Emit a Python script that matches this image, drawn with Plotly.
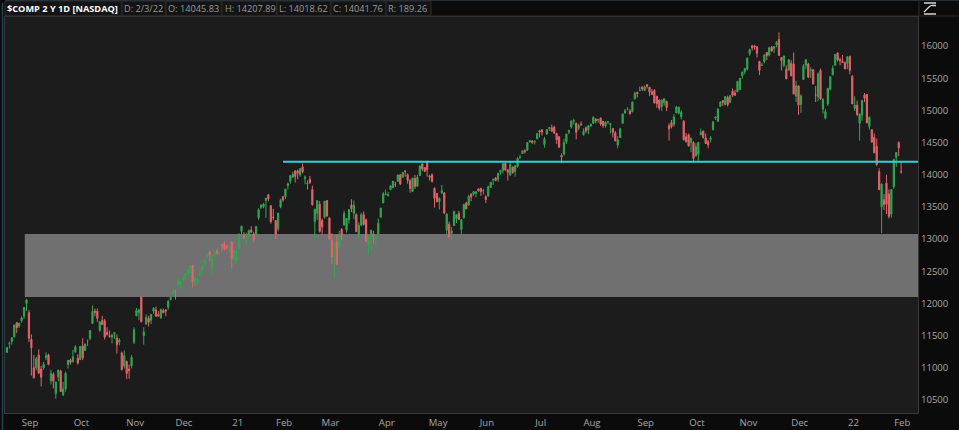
import pandas as pd
import plotly.graph_objects as go

# ---------------- data ----------------
holidays = ["2020-09-07", "2020-11-26", "2020-12-25", "2021-01-01", "2021-01-18",
            "2021-02-15", "2021-04-02", "2021-05-31", "2021-07-05", "2021-09-06",
            "2021-11-25", "2021-12-24", "2022-01-17"]
_days = pd.bdate_range("2020-08-21", "2022-02-03")
_days = _days[~_days.isin(pd.to_datetime(holidays))]
dates = [d.strftime("%Y-%m-%d") for d in _days]

open_ = [
    11240, 11376, 11410, 11480, 11700, 11650, 11730,
    11800, 12000, 11860, 11440, 11000, 11000, 11200, 10980, 11000, 11160, 11200, 10800, 10900, 10600, 10860, 10950, 10580, 10670, 11050, 11120, 11100,
    11250, 11150, 11130, 11340, 11270, 11420, 11460, 11690, 11880, 11880, 11580, 11740, 11730, 11550, 11500, 11480, 11530, 11460, 11400, 11230, 11030, 11100,
    10980, 11030, 11400, 11810, 11860, 12100, 11500, 11680, 11770, 11740, 11880, 11900, 11830, 11780, 11890, 11900, 11940, 12060, 12140, 12200,
    12300, 12300, 12370, 12390, 12460, 12480, 12590, 12290, 12340, 12430, 12510, 12630, 12730, 12800, 12550, 12760, 12820, 12790, 12910, 12930, 12900, 12880,
    12958, 12680, 12670, 12850, 13120, 13050, 13050, 13050, 13140, 13080, 13070, 13330, 13490, 13500, 13600, 13690, 13520, 13340, 13290,
    13160, 13500, 13660, 13660, 13830, 13900, 13960, 14060, 14060, 14000, 14120, 13940, 13870, 13930, 13770, 13270, 13400, 13540, 13290,
    13340, 13600, 13330, 12980, 12840, 12950, 12880, 13150, 13220, 13140, 13300, 13530, 13400, 13380, 13070, 13220, 13380, 13300, 12920, 12990, 13070, 13000, 13080,
    13340, 13560, 13690, 13680, 13770, 13800, 13850, 13900, 14000, 13960, 14060, 14000, 13910, 13740, 13940, 13820, 13990, 14170, 14110, 14210, 13980,
    14000, 13790, 13710, 13580, 13720, 13720, 13140, 13230, 13090, 13210, 13320, 13400, 13150, 13330, 13560, 13530, 13700, 13700, 13710, 13780,
    13790, 13750, 13660, 13670, 13800, 13920, 13950, 13930, 14040, 14070, 14180, 14070, 14000, 14120, 14050, 14130, 14270, 14330, 14380, 14380, 14510, 14520,
    14510, 14560, 14680, 14700, 14470, 14630, 14720, 14730, 14740, 14640, 14590, 14300, 14320, 14510, 14660, 14740, 14830, 14800, 14720, 14790, 14620,
    14730, 14700, 14760, 14800, 14860, 14850, 14880, 14830, 14760, 14820, 14780, 14720, 14650, 14460, 14580, 14800, 14960, 15020, 14990, 14980, 15180, 15280,
    15310, 15360, 15310, 15400, 15360, 15290, 15310, 15220, 15160, 15060, 15120, 15140, 14760, 14810, 14780, 14960, 14960, 14900, 14830, 14590, 14620,
    14500, 14500, 14290, 14320, 14620, 14680, 14570, 14510, 14550, 14700, 14880, 14830, 15060, 15150, 15090, 15200, 15130, 15300, 15270, 15290, 15320,
    15540, 15600, 15640, 15880, 16000, 16000, 15990, 15760, 15700, 15760, 15900, 15860, 15980, 15960, 16020, 16100, 15820, 15700, 15640, 15630, 15730,
    15720, 15220, 15380, 15090, 15480, 15700, 15720, 15620, 15630, 15240, 15210, 15620, 15020, 14880, 15100, 15330, 15550, 15700, 15890, 15790, 15760, 15740,
    15730, 15840, 15530, 15030, 15080, 14800, 14930, 15240, 15250, 14750, 14700, 14580, 14440, 14050, 13500, 13610, 13870, 13700, 13390, 13810,
    14270, 14500, 14045.83,
]
high = [
    11325, 11406, 11470, 11668, 11710, 11700, 11800,
    11945, 12074, 11900, 11520, 11200, 11170, 11290, 11030, 11090, 11240, 11220, 10970, 10930, 10790, 10970, 10970, 10780, 10940, 11120, 11140, 11280,
    11350, 11210, 11340, 11460, 11380, 11440, 11580, 11970, 11920, 11920, 11730, 11810, 11760, 11630, 11580, 11530, 11550, 11520, 11460, 11250, 11270, 11110,
    11050, 11200, 11630, 11930, 11920, 12108, 11630, 11830, 11810, 11840, 11940, 11950, 11880, 11920, 11920, 11910, 12050, 12110, 12210, 12210,
    12400, 12360, 12420, 12470, 12540, 12590, 12600, 12420, 12390, 12520, 12600, 12690, 12770, 12820, 12760, 12810, 12850, 12810, 12930, 12970, 12910, 12900,
    12958, 12830, 12830, 13090, 13208, 13110, 13100, 13150, 13200, 13110, 13200, 13480, 13540, 13560, 13640, 13700, 13520, 13470, 13290,
    13410, 13630, 13670, 13780, 13880, 13990, 14050, 14070, 14080, 14100, 14175, 13990, 13910, 13980, 13830, 13470, 13600, 13590, 13320,
    13590, 13600, 13340, 13090, 12950, 13070, 13130, 13170, 13440, 13320, 13460, 13620, 13600, 13400, 13260, 13410, 13430, 13320, 13050, 13140, 13130, 13050, 13320,
    13490, 13730, 13770, 13730, 13830, 13900, 13890, 14000, 14010, 14040, 14070, 14020, 13930, 13950, 14000, 14000, 14140, 14180, 14120, 14212, 14000,
    14020, 13800, 13710, 13650, 13840, 13720, 13400, 13270, 13190, 13440, 13390, 13440, 13310, 13550, 13580, 13690, 13710, 13740, 13740, 13790,
    13790, 13780, 13680, 13830, 13890, 13940, 13960, 14030, 14070, 14180, 14180, 14090, 14200, 14130, 14150, 14270, 14310, 14380, 14390, 14500, 14540, 14540,
    14530, 14640, 14700, 14700, 14590, 14710, 14740, 14780, 14760, 14650, 14600, 14330, 14560, 14640, 14700, 14840, 14870, 14810, 14790, 14830, 14720,
    14750, 14770, 14800, 14900, 14880, 14870, 14890, 14830, 14830, 14830, 14800, 14720, 14680, 14600, 14730, 14950, 15020, 15050, 15020, 15140, 15290, 15290,
    15370, 15380, 15390, 15404, 15360, 15330, 15330, 15220, 15170, 15170, 15190, 15150, 14800, 14850, 14940, 15070, 15060, 15000, 14850, 14650, 14640,
    14580, 14520, 14490, 14510, 14720, 14680, 14640, 14540, 14600, 14830, 14900, 15030, 15140, 15160, 15220, 15230, 15240, 15340, 15320, 15460, 15500,
    15600, 15660, 15820, 15960, 16020, 16020, 15990, 15770, 15740, 15870, 15900, 15990, 16000, 16000, 16080, 16212, 15830, 15850, 15700, 15800, 15780,
    15900, 15460, 15390, 15250, 15720, 15800, 15740, 15670, 15640, 15380, 15590, 15650, 15190, 15020, 15350, 15530, 15700, 15871, 15900, 15820, 15860, 15760,
    15840, 15850, 15550, 15220, 15150, 14950, 15160, 15270, 15250, 14900, 14710, 14640, 14560, 14100, 13860, 13700, 14000, 13770, 13770, 14240,
    14350, 14520, 14207.89,
]
low = [
    11230, 11300, 11360, 11470, 11540, 11620, 11700,
    11760, 11880, 11400, 10880, 10830, 10960, 10900, 10710, 10970, 11120, 11040, 10740, 10680, 10519, 10790, 10630, 10560, 10630, 10990, 11050, 11080,
    11230, 11050, 11120, 11120, 11260, 11340, 11430, 11680, 11800, 11710, 11560, 11670, 11440, 11500, 11470, 11380, 11450, 11220, 11350, 10960, 10990, 10822,
    10830, 10990, 11370, 11800, 11740, 11710, 11360, 11670, 11640, 11680, 11840, 11790, 11800, 11760, 11850, 11800, 11900, 12050, 12130, 12060,
    12250, 12220, 12350, 12370, 12440, 12460, 12250, 12280, 12270, 12420, 12460, 12590, 12700, 12660, 12460, 12720, 12770, 12770, 12810, 12820, 12840, 12800,
    12543, 12660, 12620, 12850, 13000, 12990, 12920, 13030, 13090, 12950, 13050, 13300, 13470, 13480, 13330, 13590, 13240, 13290, 13000,
    13120, 13480, 13580, 13620, 13770, 13860, 13960, 13880, 13930, 13970, 14020, 13850, 13770, 13860, 13520, 13003, 13300, 13100, 13070,
    13320, 13350, 12990, 12610, 12397, 12600, 12860, 12980, 13210, 13100, 13240, 13420, 13310, 13110, 13020, 13200, 13210, 12960, 12750, 12830, 12930, 12910, 13080,
    13340, 13560, 13680, 13660, 13760, 13790, 13810, 13890, 13840, 13950, 13970, 13860, 13720, 13730, 13780, 13810, 13980, 14060, 14040, 13970, 13910,
    13880, 13490, 13570, 13460, 13700, 13400, 13070, 13030, 12986, 13210, 13250, 13300, 13060, 13320, 13460, 13520, 13590, 13670, 13650, 13740,
    13670, 13690, 13560, 13660, 13800, 13840, 13900, 13890, 14000, 14020, 14060, 13910, 13980, 14020, 13970, 14110, 14250, 14330, 14330, 14370, 14500, 14480,
    14470, 14550, 14580, 14610, 14420, 14630, 14680, 14670, 14640, 14480, 14420, 14180, 14300, 14480, 14630, 14720, 14780, 14550, 14690, 14760, 14610,
    14650, 14630, 14740, 14790, 14800, 14810, 14760, 14730, 14730, 14790, 14640, 14580, 14520, 14410, 14570, 14790, 14950, 15000, 14940, 14970, 15170, 15200,
    15300, 15300, 15300, 15340, 15220, 15240, 15110, 15040, 15000, 14990, 15070, 14990, 14530, 14720, 14750, 14960, 14940, 14860, 14530, 14500, 14440,
    14350, 14181, 14290, 14220, 14620, 14560, 14480, 14410, 14500, 14690, 14850, 14820, 15060, 15070, 15080, 15060, 15110, 15210, 15230, 15280, 15320,
    15490, 15560, 15620, 15850, 15930, 15940, 15820, 15550, 15690, 15730, 15780, 15840, 15910, 15890, 15980, 15850, 15620, 15670, 15480, 15610, 15530,
    15250, 15130, 14930, 14960, 15480, 15640, 15500, 15500, 15400, 15130, 15140, 15160, 14950, 14860, 15070, 15310, 15550, 15700, 15760, 15700, 15740, 15640,
    15640, 15560, 15100, 14990, 14910, 14530, 14840, 15130, 14800, 14700, 14500, 14340, 14140, 13760, 13094, 13450, 13390, 13320, 13330, 13780,
    14120, 14290, 14018.62,
]
close = [
    11312, 11380, 11466, 11665, 11625, 11696, 11775,
    11939, 12056, 11458, 11313, 10848, 11141, 10920, 10854, 11056, 11191, 11050, 10910, 10793, 10778, 10964, 10633, 10672, 10914, 11118, 11085, 11168,
    11326, 11076, 11332, 11155, 11365, 11420, 11580, 11876, 11863, 11768, 11713, 11672, 11479, 11517, 11485, 11506, 11548, 11358, 11431, 10971, 11186, 10912,
    10957, 11161, 11590, 11891, 11895, 11714, 11554, 11786, 11710, 11829, 11925, 11802, 11802, 11905, 11855, 11881, 12037, 12094, 12206, 12199,
    12355, 12349, 12378, 12464, 12520, 12583, 12339, 12405, 12378, 12441, 12596, 12658, 12764, 12756, 12743, 12807, 12771, 12805, 12900, 12843, 12870, 12888,
    12698, 12818, 12740, 13067, 13202, 13036, 13072, 13129, 13112, 12998, 13197, 13457, 13530, 13543, 13635, 13626, 13271, 13337, 13070,
    13403, 13612, 13610, 13777, 13856, 13987, 14007, 13973, 14025, 14095, 14047, 13966, 13865, 13874, 13533, 13465, 13598, 13119, 13192,
    13589, 13359, 12998, 12723, 12920, 12609, 13073, 13069, 13399, 13320, 13460, 13472, 13525, 13116, 13215, 13377, 13228, 12962, 12977, 13139, 13060, 13046, 13247,
    13480, 13706, 13698, 13688, 13829, 13900, 13850, 13996, 13857, 14039, 14052, 13914, 13787, 13950, 13818, 13963, 14138, 14091, 14051, 14082, 13962,
    13895, 13634, 13582, 13633, 13752, 13402, 13389, 13032, 13125, 13430, 13379, 13303, 13299, 13535, 13471, 13661, 13657, 13738, 13736, 13749,
    13736, 13756, 13614, 13814, 13881, 13924, 13911, 14020, 14069, 14175, 14073, 14040, 14161, 14030, 14141, 14254, 14272, 14370, 14360, 14500, 14528, 14504,
    14522, 14639, 14663, 14665, 14559, 14701, 14733, 14678, 14644, 14543, 14427, 14275, 14499, 14632, 14684, 14837, 14840, 14660, 14763, 14778, 14673,
    14681, 14762, 14781, 14895, 14836, 14860, 14788, 14765, 14816, 14823, 14794, 14657, 14526, 14542, 14715, 14943, 14995, 15020, 14946, 15130, 15265, 15259,
    15310, 15331, 15364, 15374, 15287, 15248, 15115, 15105, 15037, 15161, 15181, 15044, 14714, 14747, 14897, 15052, 15048, 14970, 14546, 14513, 14448,
    14567, 14255, 14434, 14502, 14655, 14580, 14486, 14465, 14572, 14823, 14897, 15022, 15129, 15122, 15216, 15090, 15227, 15236, 15235, 15448, 15498,
    15595, 15650, 15812, 15940, 15971, 15982, 15886, 15623, 15704, 15861, 15853, 15974, 15922, 15993, 16057, 15854, 15775, 15845, 15492, 15783, 15538,
    15254, 15381, 15085, 15225, 15687, 15786, 15518, 15630, 15413, 15238, 15566, 15180, 15170, 14981, 15341, 15521, 15653, 15871, 15782, 15767, 15742, 15645,
    15833, 15622, 15100, 15081, 14936, 14943, 15153, 15188, 14806, 14894, 14507, 14341, 14155, 13769, 13856, 13540, 13542, 13353, 13771, 14240,
    14347, 14417, 14041.76,
]

month_labels = ["Sep", "Oct", "Nov", "Dec", "21", "Feb", "Mar", "Apr", "May", "Jun",
                "Jul", "Aug", "Sep", "Oct", "Nov", "Dec", "22", "Feb"]

zone_low, zone_high = 12100, 13080
zone_start = "2020-09-01"
level_value = 14200
level_start = "2021-02-03"

header_title = "$COMP 2 Y 1D [NASDAQ]"
header_fields = ["D: 2/3/22", "O: 14045.83", "H: 14207.89", "L: 14018.62",
                 "C: 14041.76", "R: 189.26"]

# ---------------- layout helpers ----------------
W, H = 959, 430
ML, MR, MT, MB = 5, 41, 17, 17
PW, PH = W - ML - MR, H - MT - MB


def pxx(x):
    return (x - ML) / PW


def pxy(y):
    return (H - MB - y) / PH


n = len(dates)
assert n == len(open_) == len(high) == len(low) == len(close)

# first trading day of each month (tick positions)
month_starts = []
prev = dates[0][:7]
for d in dates[1:]:
    if d[:7] != prev:
        month_starts.append(d)
        prev = d[:7]

x_left, x_right = -0.8, 372.9

UP = "#34a651"
DOWN = "#e2656b"

fig = go.Figure()
fig.add_trace(go.Candlestick(
    x=dates, open=open_, high=high, low=low, close=close,
    increasing=dict(line=dict(color=UP, width=1), fillcolor=UP),
    decreasing=dict(line=dict(color=DOWN, width=1), fillcolor=DOWN),
    whiskerwidth=0, showlegend=False, hoverinfo="skip",
))

shapes = []
# support zone
shapes.append(dict(type="rect", xref="x", yref="y",
                   x0=dates.index(zone_start) + 0.3, x1=x_right,
                   y0=zone_low, y1=zone_high,
                   fillcolor="#707070", line=dict(width=0), layer="below"))
# resistance line
shapes.append(dict(type="line", xref="x", yref="y",
                   x0=dates.index(level_start), x1=x_right,
                   y0=level_value, y1=level_value,
                   line=dict(color="#2bd3de", width=2), layer="above"))

# header boxes
box_edges = [5, 122, 166, 222, 277, 331, 386, 431]
for i in range(len(box_edges) - 1):
    shapes.append(dict(type="rect", xref="paper", yref="paper",
                       x0=pxx(box_edges[i]), x1=pxx(box_edges[i + 1]),
                       y0=pxy(16), y1=pxy(1),
                       fillcolor="#141414", line=dict(color="#2c2c2c", width=1),
                       layer="below"))
shapes.append(dict(type="line", xref="paper", yref="paper",
                   x0=pxx(5), x1=pxx(959), y0=pxy(16), y1=pxy(16),
                   line=dict(color="#2c2c2c", width=1)))
shapes.append(dict(type="line", xref="paper", yref="paper",
                   x0=pxx(5), x1=pxx(959), y0=pxy(0.5), y1=pxy(0.5),
                   line=dict(color="#26303a", width=1)))
shapes.append(dict(type="line", xref="paper", yref="paper",
                   x0=pxx(919), x1=pxx(919), y0=pxy(0), y1=pxy(16),
                   line=dict(color="#2c2c2c", width=1)))
# left teal edge
shapes.append(dict(type="line", xref="paper", yref="paper",
                   x0=pxx(2.5), x1=pxx(2.5), y0=pxy(3), y1=pxy(430),
                   line=dict(color="#1d4650", width=1.5)))
# icon (top-right)
shapes.append(dict(type="line", xref="paper", yref="paper",
                   x0=pxx(924), x1=pxx(936), y0=pxy(3), y1=pxy(3),
                   line=dict(color="#d8d8d8", width=1.5)))
shapes.append(dict(type="line", xref="paper", yref="paper",
                   x0=pxx(924), x1=pxx(936), y0=pxy(14), y1=pxy(14),
                   line=dict(color="#d8d8d8", width=1.5)))
shapes.append(dict(type="path", xref="paper", yref="paper",
                   path=f"M {pxx(924)} {pxy(12)} L {pxx(929)} {pxy(7)} "
                        f"Q {pxx(931)} {pxy(5)} {pxx(933)} {pxy(5.5)} L {pxx(936)} {pxy(5.5)}",
                   line=dict(color="#d8d8d8", width=1.3)))

annotations = []
text_x = [6, 123, 167, 224, 278, 332, 387]
annotations.append(dict(xref="paper", yref="paper", x=pxx(text_x[0]), y=pxy(8.5),
                        xanchor="left", yanchor="middle", showarrow=False,
                        borderpad=0, text=f"<b>{header_title}</b>",
                        font=dict(family="Open Sans", size=9.2, color="#ffffff")))
for tx, t in zip(text_x[1:], header_fields):
    annotations.append(dict(xref="paper", yref="paper", x=pxx(tx), y=pxy(8.5),
                            xanchor="left", yanchor="middle", showarrow=False,
                            borderpad=0, text=t,
                            font=dict(family="Open Sans", size=9.2, color="#9a9a9a")))

fig.update_layout(
    width=W, height=H,
    margin=dict(l=ML, r=MR, t=MT, b=MB, pad=0, autoexpand=False),
    paper_bgcolor="#0b0b0b",
    plot_bgcolor="#1c1c1c",
    font=dict(family="Open Sans", size=9.6, color="#a6a6a6"),
    shapes=shapes,
    annotations=annotations,
    showlegend=False,
    hovermode=False,
    xaxis=dict(
        type="category", range=[x_left, x_right], automargin=False,
        tickmode="array", tickvals=month_starts, ticktext=month_labels,
        ticks="", showgrid=False, zeroline=False,
        showline=True, linecolor="#3a3a3a", linewidth=1, mirror=True,
        rangeslider=dict(visible=False),
        tickfont=dict(family="Open Sans", size=9.6, color="#a6a6a6"),
        ticklabelshift=6,
    ),
    yaxis=dict(
        side="right", range=[10298, 16451], dtick=500, tick0=10500,
        tickformat="d", automargin=False,
        ticks="", showgrid=False, zeroline=False,
        showline=True, linecolor="#3a3a3a", linewidth=1, mirror=True,
        tickfont=dict(family="Open Sans", size=9.6, color="#a6a6a6"),
    ),
)

fig.write_html("out.html",
               config={"displayModeBar": False},
               post_script="document.body.style.margin='0px';"
                           "document.body.style.background='#0b0b0b';")
